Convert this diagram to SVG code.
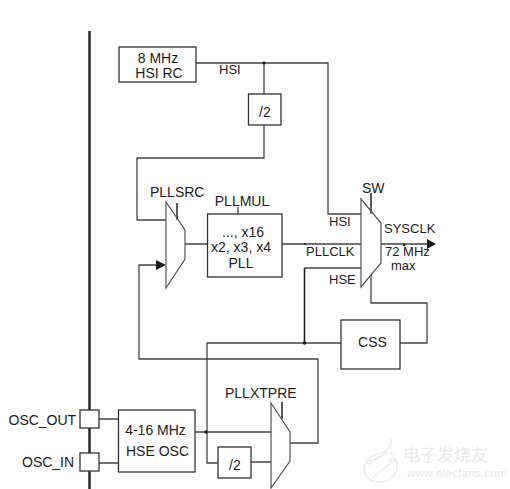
<svg xmlns="http://www.w3.org/2000/svg" width="510" height="489" viewBox="0 0 510 489">
<style>
text{font-family:"Liberation Sans",Arial,sans-serif;font-size:14px;fill:#1c1c22}
.c{text-anchor:middle}
.n{font-size:13px}
.s{fill:#fff;stroke:#333;stroke-width:1.3}
.m{fill:#fff;stroke:#555;stroke-width:1.2}
.w{fill:none;stroke:#444;stroke-width:1.3}
.d{fill:#1a1a1a}
.wm{fill:#e9e9e9}
.wl{fill:none;stroke:#ececec;stroke-width:1.5}
</style>
<rect width="510" height="489" fill="#fff"/>
<g id="connectors">
<path d="M89.5 31V489" fill="none" stroke="#222" stroke-width="2.4"/>
<path class="w" d="M196 63H328V214H361M264 63V94M264 125V158H137V220H166"/>
<path class="w" d="M185 244H207M282 244H361M381 244H430"/>
<path class="w" d="M361 268H304.500"/>
<path d="M304.500 268V343" fill="none" stroke="#222" stroke-width="1.6"/>
<path class="w" d="M371 270V303H427V343H400M341 343H207V463H218"/>
<path class="w" d="M156 265H139V359H318V443H290"/>
<path class="w" d="M195 432H271M251 462H271"/>
<path class="w" d="M99 419H118M99 463H118"/>
<path class="w" d="M177 203V220M238 207V214M371 193V214M282 402V419"/>
<path class="d" d="M166 265l-10-5v10z"/>
<path class="d" d="M436 244l-9-5v10z"/>
<circle class="d" cx="264" cy="63" r="1.6"/>
<circle class="d" cx="304.500" cy="343" r="1.8"/>
<circle class="d" cx="206" cy="432" r="1.8"/>
<circle class="d" cx="305" cy="244" r="0.9"/>
<circle class="d" cx="404" cy="245" r="1.3"/>
</g>
<g id="hsi-rc"><rect class="s" x="119" y="47" width="77" height="35"/><text class="c" x="158" y="63">8 MHz</text><text class="c" x="159" y="78">HSI RC</text></g>
<text class="n" x="219" y="74">HSI</text>
<g id="div2-top"><rect class="s" x="248.500" y="94" width="32.500" height="31"/><text x="259" y="117">/2</text></g>
<g id="pllsrc"><path class="m" d="M166 202V288L185 259V230Z"/><path class="w" d="M177 203V220"/><text x="150" y="197">PLLSRC</text></g>
<g id="pll"><rect class="s" x="207.500" y="214" width="74.500" height="63"/><text class="c" x="242" y="206">PLLMUL</text><text class="c" x="243" y="237">..., x16</text><text class="c" x="241" y="252">x2, x3, x4</text><text class="c" x="241" y="268">PLL</text></g>
<g id="sw"><path class="m" d="M361 199V287L381 263V223Z"/><path class="w" d="M371 193V214"/><text x="362" y="193">SW</text><text class="n" x="329" y="226">HSI</text><text class="n" x="306" y="256">PLLCLK</text><text class="n" x="329" y="284">HSE</text><text class="n" x="384" y="233">SYSCLK</text><text class="n" x="385" y="256">72 MHz</text><text class="n" x="391" y="270">max</text></g>
<g id="css"><rect class="s" x="341" y="320" width="59" height="49"/><text class="c" x="372.500" y="347">CSS</text></g>
<g id="osc-out"><rect class="s" x="80" y="410" width="19" height="18"/><text x="8.500" y="425">OSC_OUT</text></g>
<g id="osc-in"><rect class="s" x="80" y="453" width="19" height="18"/><text x="22" y="467">OSC_IN</text></g>
<g id="hse-osc"><rect class="s" x="118.500" y="410" width="76.500" height="62"/><text class="c" x="155.500" y="435">4-16 MHz</text><text class="c" x="157.500" y="456">HSE OSC</text></g>
<g id="div2-bottom"><rect class="s" x="218" y="447" width="33" height="31"/><text x="229" y="470">/2</text></g>
<g id="pllxtpre"><path class="m" d="M271 403V488L290 461V432Z"/><path class="w" d="M282 402V419"/><text x="225" y="398">PLLXTPRE</text></g>
<g id="watermark"><text class="wm" x="403" y="461" style="font-family:'Noto Sans CJK SC',sans-serif;font-size:17px">电子发烧友</text><text class="wm" x="407" y="477" style="font-size:11.500px;letter-spacing:.3px">www.elecfans.com</text><path class="wl" d="M390 437c2 8 1 11-6 15-12 3-20 9-20 17 0 9 8 13 16 13s16-6 17-14c1-7-3-11-7-16"/><path class="wl" d="M372 461l16-9M372 478l18-14"/><circle class="wl" cx="369" cy="462" r="2"/><circle class="wl" cx="392" cy="461" r="2"/></g>
</svg>
